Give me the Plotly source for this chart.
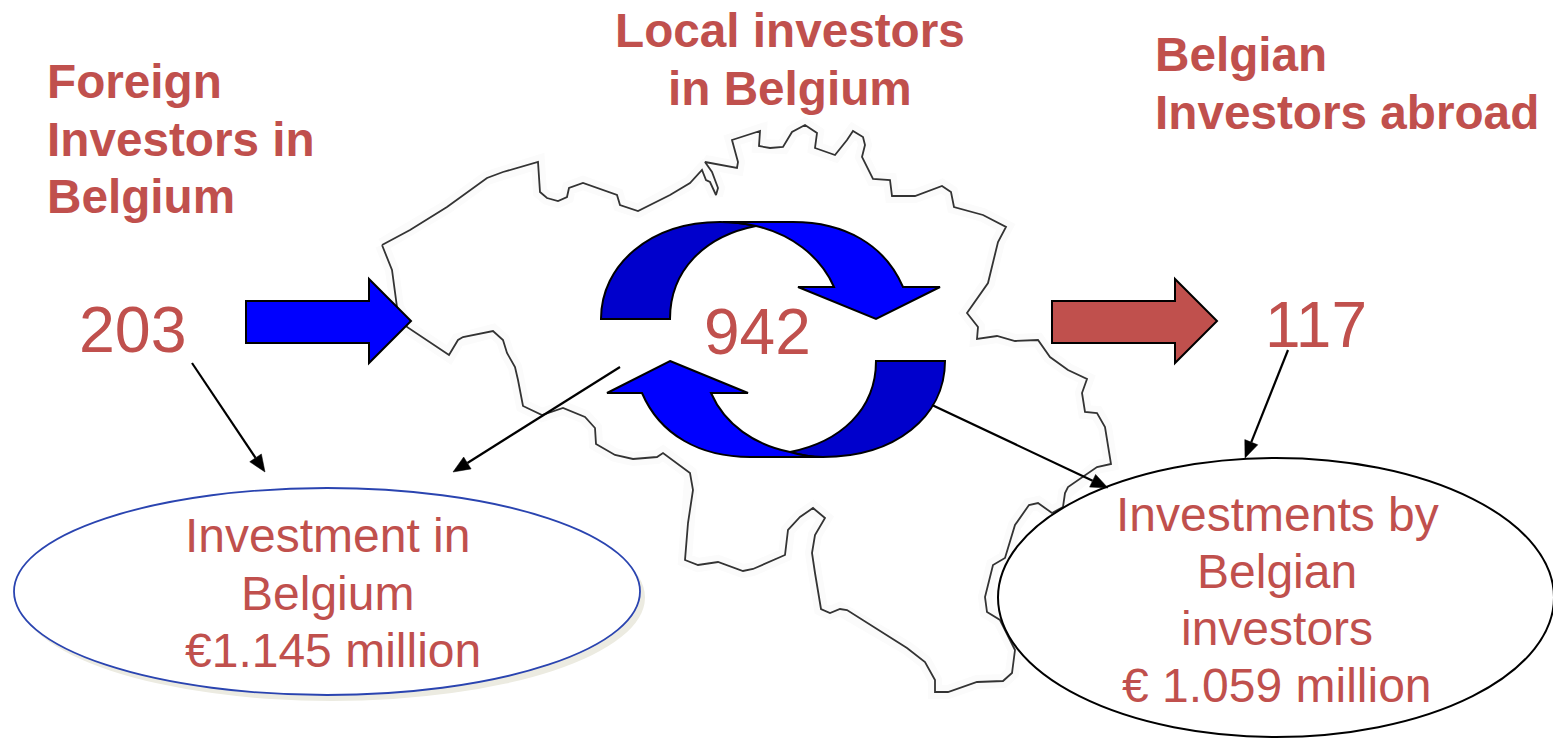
import plotly.graph_objects as go

# ---- data ----
foreign_investors = "203"
local_investors = "942"
belgian_abroad = "117"
heading_foreign = ["Foreign", "Investors in", "Belgium"]
heading_local = ["Local investors", "in Belgium"]
heading_abroad = ["Belgian", "Investors abroad"]
label_in_belgium = ["Investment in", "Belgium", "€1.145 million"]
label_by_belgian = ["Investments by", "Belgian", "investors", "€ 1.059 million"]

map_x = [382,410,447,487,503,538,540,547,558,567,569,583,617,620,638,670,690,702,706,710,716,718,712,705,737,738,732,
         760,759,770,783,792,805,817,815,835,847,853,863,865,862,873,890,892,915,942,951,954,983,1006,998,990,988,967,
         978,977,997,1015,1038,1050,1068,1087,1082,1085,1097,1105,1108,1111,1097,1068,1065,1063,1052,1038,1029,1015,
         1005,993,985,987,1000,1015,1012,1003,977,948,935,935,925,907,847,840,830,821,815,812,815,825,813,800,788,785,
         753,743,718,698,685,688,693,691,693,690,663,657,633,615,596,595,585,563,542,523,518,515,507,503,493,463,458,
         449,407,397,392,382]
map_y = [245,230,207,178,172,162,192,198,201,197,188,183,195,205,211,195,183,170,180,182,195,188,172,162,168,162,140,
         131,146,148,147,132,125,133,148,155,140,131,137,145,157,179,180,196,196,186,192,207,215,227,242,273,283,313,
         327,339,336,341,340,357,370,379,393,412,413,427,447,464,467,487,493,507,513,503,505,525,
         558,565,597,612,620,650,673,681,682,692,692,680,662,648,610,609,613,609,573,553,535,518,508,517,530,555,
         569,571,562,565,560,523,490,480,487,473,453,457,459,455,444,428,417,408,415,406,380,367,353,340,331,337,340,
         355,327,307,270,245]

RED = "#c0504d"
BLUE = "#0000ff"
DARK = "#0000cc"
FONT = "Liberation Sans"

fig = go.Figure()
# faint halo of the scanned map, then the outline
fig.add_trace(go.Scatter(x=map_x, y=map_y, mode="lines", line=dict(color="#fbfbfb", width=14),
                         hoverinfo="skip", showlegend=False))
fig.add_trace(go.Scatter(x=map_x, y=map_y, mode="lines", line=dict(color="#333333", width=1.8),
                         hoverinfo="skip", showlegend=False))

shapes = []

def path(d, fill, lw=2):
    shapes.append(dict(type="path", path=d, xref="x", yref="y", layer="above", fillcolor=fill,
                       line=dict(color="#000000", width=lw)))

def ellipse(x0, y0, x1, y1, fill, col, lw):
    shapes.append(dict(type="circle", xref="x", yref="y", layer="above", x0=x0, y0=y0, x1=x1, y1=y1,
                       fillcolor=fill, line=dict(color=col, width=lw)))

def arrow_line(x0, y0, x1, y1):
    L = ((x1 - x0) ** 2 + (y1 - y0) ** 2) ** 0.5
    ux, uy = (x1 - x0) / L, (y1 - y0) / L
    bx, by = x1 - ux * 17, y1 - uy * 17
    shapes.append(dict(type="line", xref="x", yref="y", layer="above", x0=x0, y0=y0, x1=bx, y1=by,
                       line=dict(color="#000000", width=2.2)))
    path(f"M {x1},{y1} L {bx - uy * 7},{by + ux * 7} L {bx + uy * 7},{by - ux * 7} Z", "#000000", 0.5)

# straight block arrows
path("M 246,301 L 369,301 L 369,279 L 411,321 L 369,363 L 369,343 L 246,343 Z", BLUE)
path("M 1052,301 L 1175,301 L 1175,279 L 1217,321 L 1175,363 L 1175,343 L 1052,343 Z", RED)

# circular arrows
path("M 601,319 C 601,265 650,222 720,222 C 735,222 747,224 756,226 C 705,236 670,270 670,319 Z", DARK)
path("M 723,222 L 793,222 C 845,222 885,245 903,287 L 940,287 L 876,319 L 798,287 L 834,287 "
     "C 820,255 790,234 756,226 C 747,224 735,222 723,222 Z", BLUE)
path("M 945,361 C 945,417 895,457 823,457 C 810,457 800,455 790,452 C 840,442 876,410 876,361 Z", DARK)
path("M 670,361 L 748,393 L 711,393 C 725,425 755,445 790,452 C 800,455 812,457 823,457 L 750,457 "
     "C 700,457 660,435 642,393 L 607,393 Z", BLUE)

# ellipses
shapes.append(dict(type="circle", xref="x", yref="y", layer="above", x0=19, y0=494, x1=645, y1=701,
                   fillcolor="#ecebe1", line=dict(width=0)))
ellipse(14, 488, 640, 695, "#ffffff", "#2a44b0", 1.8)
ellipse(998, 458, 1554, 737, "#ffffff", "#000000", 2)

# thin pointer arrows
arrow_line(192, 363, 265, 472)
arrow_line(620, 367, 453, 472)
arrow_line(932, 405, 1108, 488)
arrow_line(1288, 350, 1245, 458)

ann = []

def text(s, x, y, size, bold=False, anchor="center"):
    ann.append(dict(text=f"<b>{s}</b>" if bold else s, x=x, y=y, xref="x", yref="y", xanchor=anchor,
                    yanchor="middle", showarrow=False, borderpad=0,
                    font=dict(family=FONT, size=size, color=RED)))

for s, y in zip(heading_foreign, [81, 139, 196]):
    text(s, 46, y, 47.7, True, "left")
for s, y in zip(heading_local, [30, 88]):
    text(s, 790, y, 47.7, True)
for s, y in zip(heading_abroad, [54, 112]):
    text(s, 1153.5, y, 47.7, True, "left")
text(foreign_investors, 133, 330, 64.5)
text(local_investors, 757, 332, 64)
text(belgian_abroad, 1315.5, 325, 64)
for s, x, y in zip(label_in_belgium, [327, 327, 333], [535, 593, 650]):
    text(s, x, y, 48)
for s, x, y in zip(label_by_belgian, [1277, 1277, 1277, 1276.5], [514, 571, 628, 685]):
    text(s, x, y, 48)

fig.update_layout(
    width=1553, height=738, margin=dict(l=0, r=0, t=0, b=0),
    paper_bgcolor="#ffffff", plot_bgcolor="#ffffff", showlegend=False,
    xaxis=dict(range=[0, 1553], visible=False, fixedrange=True),
    yaxis=dict(range=[738, 0], visible=False, fixedrange=True),
    shapes=shapes, annotations=ann,
)
fig.write_html("out.html", post_script="document.body.style.margin='0';",
               config={"displayModeBar": False})
